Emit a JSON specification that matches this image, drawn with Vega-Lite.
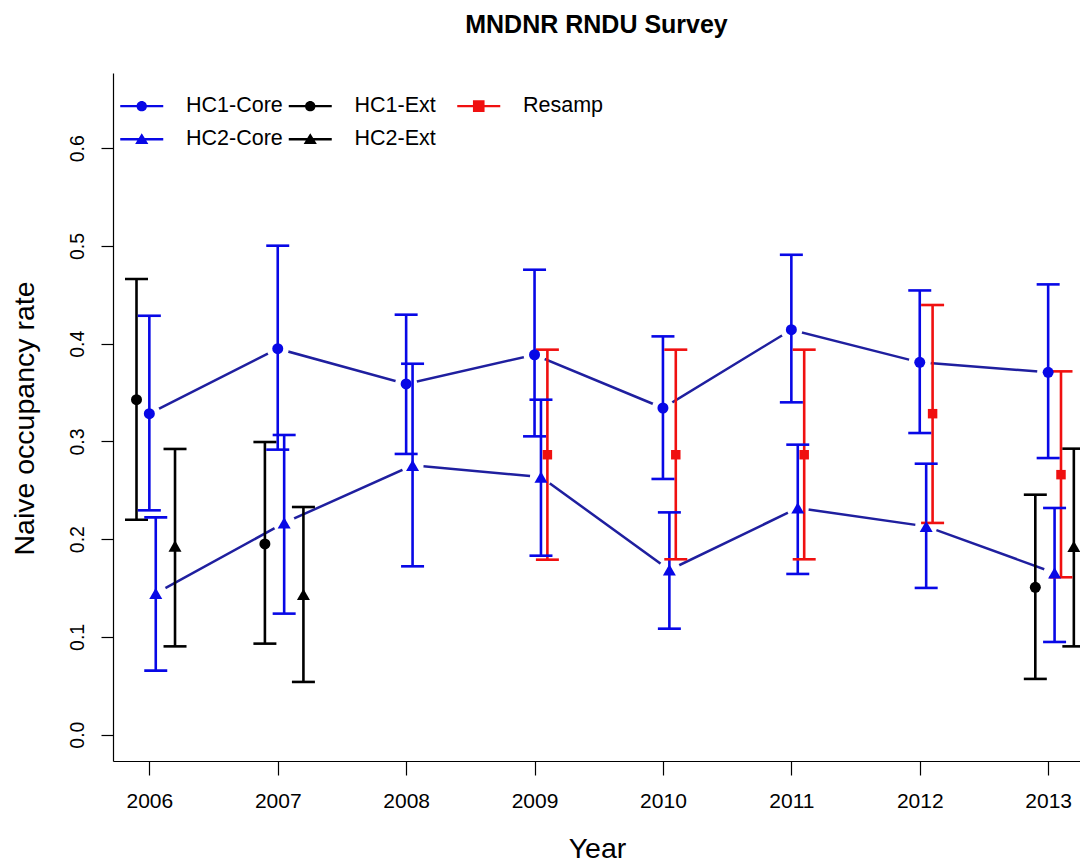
{
  "$schema": "https://vega.github.io/schema/vega-lite/v6.json",
  "autosize": {"type": "none"},
  "width": 967,
  "height": 688,
  "padding": {"left": 113, "top": 73, "right": 0, "bottom": 102},
  "background": "#ffffff",
  "config": {
    "font": "Liberation Sans",
    "view": {"stroke": null},
    "axis": {"grid": false, "domainColor": "#000000", "domainWidth": 1.2, "tickColor": "#000000", "tickWidth": 1.2, "tickSize": 12, "labelColor": "#000000", "titleColor": "#000000", "labelFont": "Liberation Sans", "titleFont": "Liberation Sans", "labelFontSize": 19.5, "titleFontSize": 28.5, "titleFontWeight": "normal"}
  },
  "title": {"text": "MNDNR RNDU Survey", "font": "Liberation Sans", "fontSize": 25, "fontWeight": "bold", "color": "#000000", "anchor": "middle", "frame": "group", "baseline": "alphabetic", "offset": 15},
  "data": {"values": [
    {"series": "HC1-Core", "year": 2006, "est": 0.3284, "lo": 0.2295, "hi": 0.4286},
    {"series": "HC1-Core", "year": 2007, "est": 0.3949, "lo": 0.2916, "hi": 0.5003},
    {"series": "HC1-Core", "year": 2008, "est": 0.3588, "lo": 0.2872, "hi": 0.4297},
    {"series": "HC1-Core", "year": 2009, "est": 0.3887, "lo": 0.3052, "hi": 0.4757},
    {"series": "HC1-Core", "year": 2010, "est": 0.3342, "lo": 0.2616, "hi": 0.4075},
    {"series": "HC1-Core", "year": 2011, "est": 0.4143, "lo": 0.34, "hi": 0.491},
    {"series": "HC1-Core", "year": 2012, "est": 0.3809, "lo": 0.3086, "hi": 0.4545},
    {"series": "HC1-Core", "year": 2013, "est": 0.3707, "lo": 0.283, "hi": 0.4607},
    {"series": "HC2-Core", "year": 2006, "est": 0.1445, "lo": 0.0655, "hi": 0.2223},
    {"series": "HC2-Core", "year": 2007, "est": 0.2166, "lo": 0.1238, "hi": 0.3066},
    {"series": "HC2-Core", "year": 2008, "est": 0.2755, "lo": 0.1722, "hi": 0.3795},
    {"series": "HC2-Core", "year": 2009, "est": 0.2636, "lo": 0.1831, "hi": 0.3427},
    {"series": "HC2-Core", "year": 2010, "est": 0.1685, "lo": 0.1084, "hi": 0.2274},
    {"series": "HC2-Core", "year": 2011, "est": 0.2319, "lo": 0.1644, "hi": 0.2967},
    {"series": "HC2-Core", "year": 2012, "est": 0.2131, "lo": 0.1501, "hi": 0.2772},
    {"series": "HC2-Core", "year": 2013, "est": 0.1654, "lo": 0.0948, "hi": 0.2319},
    {"series": "HC1-Ext", "year": 2006, "est": 0.3427, "lo": 0.2199, "hi": 0.4662},
    {"series": "HC1-Ext", "year": 2007, "est": 0.1951, "lo": 0.0931, "hi": 0.2994},
    {"series": "HC1-Ext", "year": 2013, "est": 0.1507, "lo": 0.057, "hi": 0.2455},
    {"series": "HC2-Ext", "year": 2006, "est": 0.193, "lo": 0.0903, "hi": 0.2923},
    {"series": "HC2-Ext", "year": 2007, "est": 0.1436, "lo": 0.0539, "hi": 0.2329},
    {"series": "HC2-Ext", "year": 2013, "est": 0.1926, "lo": 0.0903, "hi": 0.2926},
    {"series": "Resamp", "year": 2009, "est": 0.2864, "lo": 0.179, "hi": 0.3939},
    {"series": "Resamp", "year": 2010, "est": 0.2864, "lo": 0.1794, "hi": 0.3939},
    {"series": "Resamp", "year": 2011, "est": 0.2864, "lo": 0.1794, "hi": 0.3939},
    {"series": "Resamp", "year": 2012, "est": 0.3284, "lo": 0.2166, "hi": 0.4396},
    {"series": "Resamp", "year": 2013, "est": 0.266, "lo": 0.161, "hi": 0.3717}
  ]},
  "transform": [
    {"calculate": "datum.year + (datum.series === 'HC1-Ext' ? -0.1 : datum.series === 'HC2-Core' ? 0.05 : datum.series === 'Resamp' ? 0.1 : datum.series === 'HC2-Ext' ? 0.2 : 0)", "as": "xpos"}
  ],
  "encoding": {
    "x": {"field": "xpos", "type": "quantitative", "scale": {"domain": [2005.717, 2013.248], "nice": false, "zero": false},
      "axis": {"values": [2006, 2007, 2008, 2009, 2010, 2011, 2012, 2013], "format": "d", "tickSize": 14, "labelFontSize": 21, "labelPadding": 15.5, "title": "Year", "titleX": 484, "titleY": 96.5, "titleBaseline": "alphabetic", "titleAnchor": null}},
    "y": {"field": "est", "type": "quantitative", "scale": {"domain": [-0.027, 0.677], "nice": false, "zero": false},
      "axis": {"values": [0, 0.1, 0.2, 0.3, 0.4, 0.5, 0.6], "format": ".1f", "labelAngle": -90, "labelAlign": "center", "labelBaseline": "bottom", "labelPadding": 14, "title": "Naive occupancy rate", "titleX": -80, "titleY": 345, "titleBaseline": "alphabetic", "titleAngle": -90}}
  },
  "layer": [
    {
      "transform": [{"filter": "datum.series === 'HC1-Core' || datum.series === 'HC2-Core'"}],
      "mark": {"type": "line", "stroke": "#1f1f9f", "strokeWidth": 2.5},
      "encoding": {"detail": {"field": "series"}}
    },
    {
      "transform": [{"filter": "datum.series === 'HC1-Core' || datum.series === 'HC2-Core'"}],
      "mark": {"type": "point", "shape": "circle", "filled": true, "fill": "#ffffff", "strokeWidth": 0, "opacity": 1, "size": 484}
    },
    {
      "mark": {"type": "rule", "strokeWidth": 2.6},
      "encoding": {
        "y": {"field": "lo", "type": "quantitative"},
        "y2": {"field": "hi"},
        "stroke": {"field": "series", "type": "nominal", "legend": null,
          "scale": {"range": ["#0808e6", "#000000", "#0808e6", "#000000", "#f01010"]}}
      }
    },
    {
      "mark": {"type": "tick", "orient": "horizontal", "size": 23, "thickness": 2.6, "opacity": 1, "filled": true},
      "encoding": {
        "y": {"field": "lo", "type": "quantitative"},
        "fill": {"field": "series", "type": "nominal", "legend": null,
          "scale": {"range": ["#0808e6", "#000000", "#0808e6", "#000000", "#f01010"]}}
      }
    },
    {
      "mark": {"type": "tick", "orient": "horizontal", "size": 23, "thickness": 2.6, "opacity": 1, "filled": true},
      "encoding": {
        "y": {"field": "hi", "type": "quantitative"},
        "fill": {"field": "series", "type": "nominal", "legend": null}
      }
    },
    {
      "transform": [{"filter": "datum.series === 'HC1-Core' || datum.series === 'HC1-Ext'"}],
      "mark": {"type": "point", "shape": "circle", "filled": true, "opacity": 1, "size": 121, "strokeWidth": 0},
      "encoding": {"fill": {"field": "series", "type": "nominal", "legend": null}}
    },
    {
      "transform": [{"filter": "datum.series === 'HC2-Core' || datum.series === 'HC2-Ext'"}],
      "mark": {"type": "point", "shape": "triangle-up", "filled": true, "opacity": 1, "size": 169, "strokeWidth": 0},
      "encoding": {"fill": {"field": "series", "type": "nominal", "legend": null}}
    },
    {
      "transform": [{"filter": "datum.series === 'Resamp'"}],
      "mark": {"type": "point", "shape": "square", "filled": true, "opacity": 1, "size": 90, "strokeWidth": 0},
      "encoding": {"fill": {"field": "series", "type": "nominal", "legend": null}}
    },
    {
      "transform": [{"filter": "false"}],
      "mark": {"type": "point", "filled": true, "opacity": 1},
      "encoding": {
        "color": {"field": "series", "type": "nominal",
          "scale": {"domain": ["HC1-Core", "HC2-Core", "HC1-Ext", "HC2-Ext", "Resamp"], "range": ["#0808e6", "#0808e6", "#000000", "#000000", "#f01010"]},
          "legend": {"orient": "none", "legendX": 18, "legendY": 22, "columns": 3, "gridAlign": "all", "title": null, "symbolSize": 400, "symbolStrokeWidth": 0, "symbolOpacity": 1, "labelFont": "Liberation Sans", "labelFontSize": 21.5, "labelColor": "#000000", "labelOffset": 33.5, "columnPadding": 5.5, "rowPadding": 10.5, "padding": 0, "labelLimit": 300}},
        "shape": {"field": "series", "type": "nominal",
          "scale": {"domain": ["HC1-Core", "HC2-Core", "HC1-Ext", "HC2-Ext", "Resamp"],
            "range": [
              "M-2.15,-0.12L2.15,-0.12L2.15,0.12L-2.15,0.12Z M-0.52,0A0.52,0.52 0 1,1 0.52,0A0.52,0.52 0 1,1 -0.52,0Z",
              "M-2.15,-0.12L2.15,-0.12L2.15,0.12L-2.15,0.12Z M0,-0.6L0.66,0.48L-0.66,0.48Z",
              "M-2.15,-0.12L2.15,-0.12L2.15,0.12L-2.15,0.12Z M-0.52,0A0.52,0.52 0 1,1 0.52,0A0.52,0.52 0 1,1 -0.52,0Z",
              "M-2.15,-0.12L2.15,-0.12L2.15,0.12L-2.15,0.12Z M0,-0.6L0.66,0.48L-0.66,0.48Z",
              "M-2.15,-0.12L2.15,-0.12L2.15,0.12L-2.15,0.12Z M-0.58,-0.58L0.58,-0.58L0.58,0.58L-0.58,0.58Z"
            ]},
          "legend": {"orient": "none", "legendX": 18, "legendY": 22, "columns": 3, "gridAlign": "all", "title": null, "symbolSize": 400, "symbolStrokeWidth": 0, "symbolOpacity": 1, "labelFont": "Liberation Sans", "labelFontSize": 21.5, "labelColor": "#000000", "labelOffset": 33.5, "columnPadding": 5.5, "rowPadding": 10.5, "padding": 0, "labelLimit": 300}}
      }
    }
  ],
  "resolve": {"scale": {"fill": "shared", "stroke": "shared"}}
}
